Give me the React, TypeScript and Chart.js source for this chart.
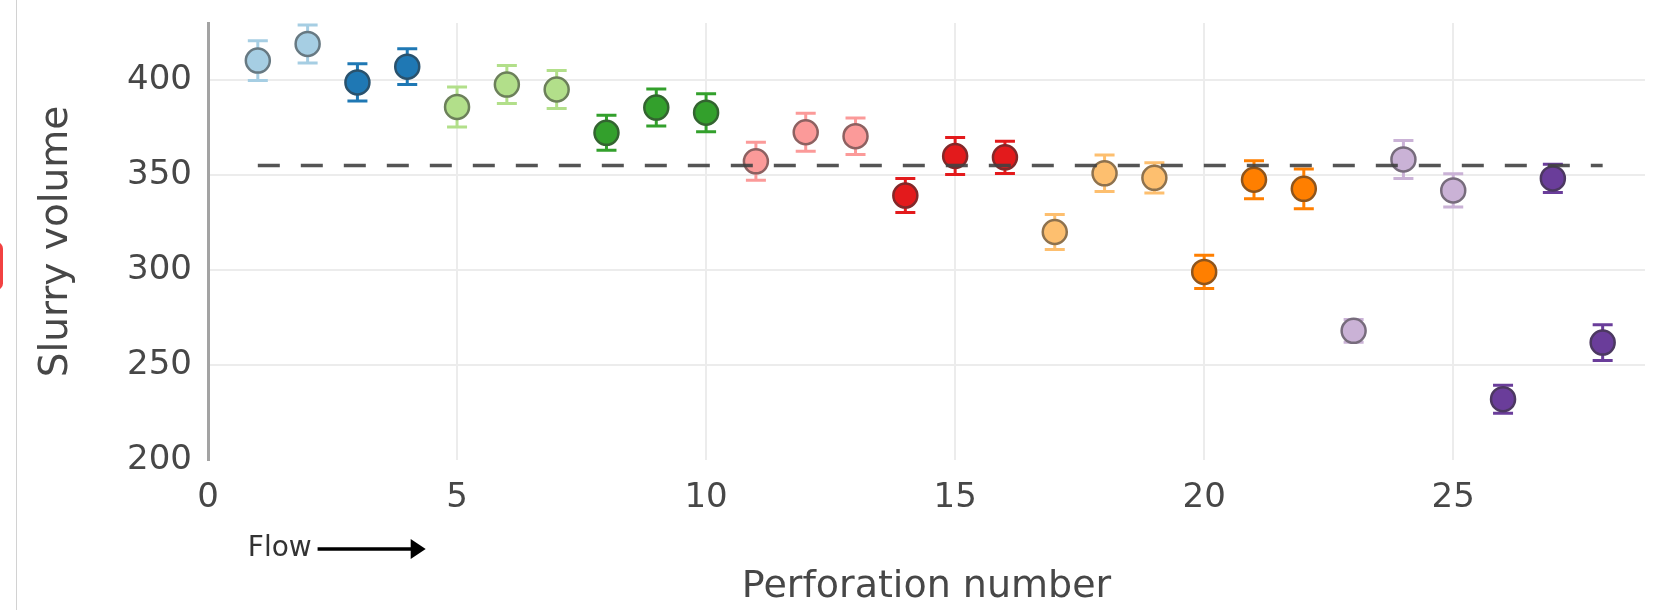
import React, { useEffect, useRef } from 'react';
import { Chart, registerables } from 'chart.js';

Chart.register(...registerables);

// Perforations along the stage, measured slurry volume and its uncertainty
const perforations = [1, 2, 3, 4, 5, 6, 7, 8, 9, 10, 11, 12, 13, 14, 15, 16, 17, 18, 19, 20, 21, 22, 23, 24, 25, 26, 27, 28];
const slurryVolume = [410.2, 419, 398.7, 407, 385.8, 397.6, 395, 372.2, 385.5, 382.8, 357.2, 372.5, 370.4, 339.2, 360, 359.3, 320, 350.9, 348.5, 299, 347.5, 342.7, 268, 358.2, 341.9, 232, 348.2, 261.8];
const volumeError = [10.5, 10, 9.8, 9.4, 10.5, 10, 10, 9.2, 9.7, 10, 10, 10, 9.6, 9, 9.8, 8.5, 9.2, 9.6, 8, 8.7, 10, 10.5, 6, 10, 8.7, 7.4, 7.4, 9.4];
// Cluster that each perforation belongs to (index into clusterColors)
const clusterOfPerforation = [0, 0, 1, 1, 2, 2, 2, 3, 3, 3, 4, 4, 4, 5, 5, 5, 6, 6, 6, 7, 7, 7, 8, 8, 8, 9, 9, 9];
const clusterColors = ['#a6cee3', '#1f78b4', '#b2df8a', '#33a02c', '#fb9a99', '#e31a1c', '#fdbf6f', '#ff7f00', '#cab2d6', '#6a3d9a'];
// Average volume over all perforations, drawn as a dashed reference line
const meanVolume = 355;
const meanSpan = [1, 28];
const xTicks = [0, 5, 10, 15, 20, 25];
const yTicks = [200, 250, 300, 350, 400];

const FONT = "'DejaVu Sans', Verdana, sans-serif";
const TEXT = '#474747';

function mix(hex: string, other: string, t: number): string {
  const a = parseInt(hex.slice(1), 16);
  const b = parseInt(other.slice(1), 16);
  const ch = (v: number, s: number) => (v >> s) & 255;
  const r = Math.round(ch(a, 16) * (1 - t) + ch(b, 16) * t);
  const g = Math.round(ch(a, 8) * (1 - t) + ch(b, 8) * t);
  const bl = Math.round(ch(a, 0) * (1 - t) + ch(b, 0) * t);
  return `rgb(${r},${g},${bl})`;
}

const errorBarPlugin = {
  id: 'errorBars',
  beforeDatasetsDraw(chart: any) {
    const { ctx, scales } = chart;
    const xs = scales.x;
    const ys = scales.y;
    const capHalf = 10;
    ctx.save();
    ctx.lineWidth = 3;
    perforations.forEach((p, i) => {
      const px = xs.getPixelForValue(p);
      const top = ys.getPixelForValue(slurryVolume[i] + volumeError[i]);
      const bot = ys.getPixelForValue(slurryVolume[i] - volumeError[i]);
      ctx.strokeStyle = clusterColors[clusterOfPerforation[i]];
      ctx.beginPath();
      ctx.moveTo(px, top);
      ctx.lineTo(px, bot);
      ctx.moveTo(px - capHalf, top);
      ctx.lineTo(px + capHalf, top);
      ctx.moveTo(px - capHalf, bot);
      ctx.lineTo(px + capHalf, bot);
      ctx.stroke();
    });
    ctx.restore();
  },
};

// "Flow ->" note under the first perforations, showing the flow direction
const flowNotePlugin = {
  id: 'flowNote',
  afterDraw(chart: any) {
    const { ctx, scales, chartArea } = chart;
    const xs = scales.x;
    const y = chartArea.bottom + 89;
    const textLeft = xs.getPixelForValue(0.8);
    const arrowStart = xs.getPixelForValue(2.2);
    const arrowEnd = xs.getPixelForValue(4.37);
    ctx.save();
    ctx.font = `28px ${FONT}`;
    ctx.fillStyle = '#333';
    ctx.textAlign = 'left';
    ctx.textBaseline = 'middle';
    ctx.fillText('Flow', textLeft, y);
    ctx.strokeStyle = '#000';
    ctx.lineWidth = 3.5;
    ctx.beginPath();
    ctx.moveTo(arrowStart, y);
    ctx.lineTo(arrowEnd - 8, y);
    ctx.stroke();
    ctx.fillStyle = '#000';
    ctx.beginPath();
    ctx.moveTo(arrowEnd, y);
    ctx.lineTo(arrowEnd - 15, y - 10);
    ctx.lineTo(arrowEnd - 15, y + 10);
    ctx.closePath();
    ctx.fill();
    ctx.restore();
  },
};

export default function App() {
  const canvasRef = useRef<HTMLCanvasElement>(null);

  useEffect(() => {
    const canvas = canvasRef.current;
    if (!canvas) return;

    const clusterSets = clusterColors.map((color, c) => {
      const pts = perforations
        .map((p, i) => ({ x: p, y: slurryVolume[i], c: clusterOfPerforation[i] }))
        .filter((d) => d.c === c)
        .map((d) => ({ x: d.x, y: d.y }));
      return {
        type: 'scatter' as const,
        label: `Cluster ${c + 1}`,
        data: pts,
        backgroundColor: color,
        borderColor: mix(color, '#333333', 0.55),
        pointRadius: 12,
        pointBorderWidth: 2.5,
        pointHoverRadius: 12,
        order: 2,
      };
    });

    const meanLine = {
      type: 'line' as const,
      label: 'Mean',
      data: meanSpan.map((x) => ({ x, y: meanVolume })),
      borderColor: 'rgba(65,65,65,0.9)',
      borderWidth: 3.5,
      borderDash: [22, 21],
      pointRadius: 0,
      fill: false,
      order: 1,
    };

    const chart = new Chart(canvas, {
      type: 'scatter',
      data: { datasets: [meanLine as any, ...clusterSets] },
      options: {
        responsive: false,
        animation: false,
        layout: { padding: { top: 23, right: 22, bottom: 0, left: 0 } },
        plugins: {
          legend: { display: false },
          tooltip: { enabled: false },
        },
        scales: {
          x: {
            type: 'linear',
            min: 0,
            max: 28.85,
            afterBuildTicks: (scale: any) => {
              scale.ticks = xTicks.map((value) => ({ value }));
            },
            afterFit: (scale: any) => {
              scale.height = 150;
              scale.paddingLeft = 0;
              scale.paddingRight = 0;
            },
            ticks: {
              font: { family: FONT, size: 34 },
              color: TEXT,
              padding: 18,
              includeBounds: false,
            },
            grid: {
              color: (ctx: any) => (ctx.tick && ctx.tick.value === 0 ? 'rgba(0,0,0,0)' : '#ececec'),
              lineWidth: 2,
              drawTicks: false,
            },
            border: { display: false },
            title: {
              display: true,
              text: 'Perforation number',
              font: { family: FONT, size: 38 },
              color: TEXT,
              padding: { top: 0, bottom: 0 },
            },
          },
          y: {
            type: 'linear',
            min: 200,
            max: 430,
            afterBuildTicks: (scale: any) => {
              scale.ticks = yTicks.map((value) => ({ value }));
            },
            afterFit: (scale: any) => {
              scale.width = 208;
              scale.paddingTop = 0;
              scale.paddingBottom = 0;
            },
            ticks: {
              font: { family: FONT, size: 34 },
              color: TEXT,
              padding: 16,
              includeBounds: false,
            },
            grid: {
              color: (ctx: any) => (ctx.tick && ctx.tick.value === 200 ? 'rgba(0,0,0,0)' : '#ececec'),
              lineWidth: 2,
              drawTicks: false,
            },
            border: { display: true, color: '#a3a3a3', width: 3 },
            title: {
              display: true,
              text: 'Slurry volume',
              font: { family: FONT, size: 39 },
              color: TEXT,
              padding: { top: 33, bottom: 0 },
            },
          },
        },
      },
      plugins: [errorBarPlugin, flowNotePlugin],
    } as any);

    return () => chart.destroy();
  }, []);

  return (
    <div style={{ position: 'fixed', left: 0, top: 0, width: 1667, height: 610, background: '#fff', overflow: 'hidden' }}>
      <canvas ref={canvasRef} width={1667} height={610} style={{ display: 'block' }} />
      <div style={{ position: 'absolute', left: 16, top: 0, width: 1, height: 610, background: '#d2d2d2' }} />
      <div style={{ position: 'absolute', left: -10, top: 242, width: 13, height: 48, borderRadius: 7, background: '#f24141' }} />
    </div>
  );
}
